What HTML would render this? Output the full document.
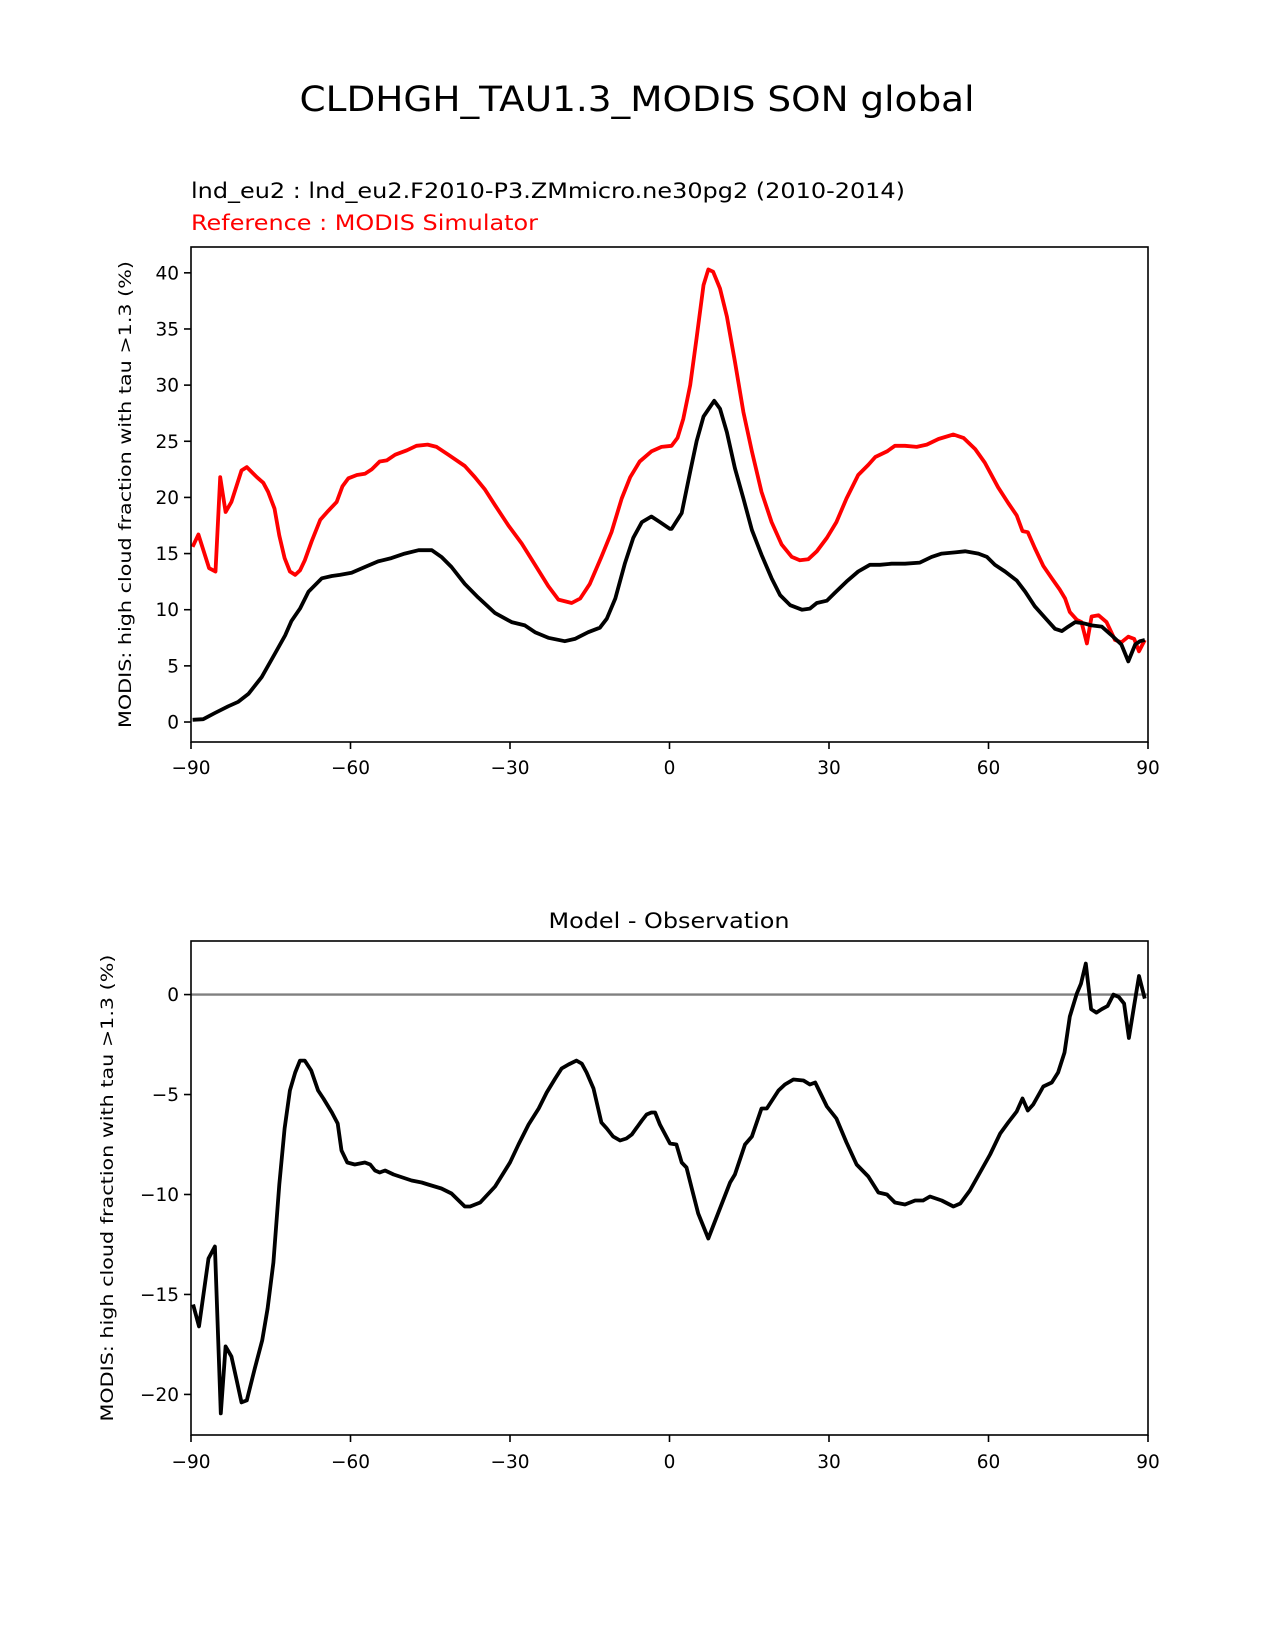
<!DOCTYPE html>
<html><head><meta charset="utf-8"><style>
html,body{margin:0;padding:0;background:#fff;}
svg{display:block;font-family:"DejaVu Sans","Liberation Sans",sans-serif;}
</style></head>
<body>
<svg id="fig" width="1275" height="1650" viewBox="0 0 1275 1650" xmlns="http://www.w3.org/2000/svg">
<rect width="1275" height="1650" fill="#fff"/>
<text x="637" y="111" font-size="35" text-anchor="middle" textLength="675" lengthAdjust="spacingAndGlyphs">CLDHGH_TAU1.3_MODIS SON global</text>
<text x="191" y="198" font-size="21" textLength="714" lengthAdjust="spacingAndGlyphs">lnd_eu2 : lnd_eu2.F2010-P3.ZMmicro.ne30pg2 (2010-2014)</text>
<text x="191" y="230" font-size="21" fill="#ff0000" textLength="347" lengthAdjust="spacingAndGlyphs">Reference : MODIS Simulator</text>
<text x="669" y="928" font-size="21" text-anchor="middle" textLength="241" lengthAdjust="spacingAndGlyphs">Model - Observation</text>
<g id="top"></g>
<g id="bot"></g>
</svg>
<script>
// Top panel data
const testLats = [-89.7,-87.7,-85.5,-83.0,-81.1,-79.2,-76.7,-74.2,-72.3,-71.1,-69.5,-67.9,-65.4,-63.5,-62.0,-59.8,-57.3,-54.8,-52.3,-49.8,-47.2,-44.7,-42.9,-41.0,-38.5,-36.0,-32.8,-29.7,-27.2,-25.3,-22.8,-19.7,-17.8,-15.3,-13.1,-11.8,-10.2,-8.4,-6.8,-5.2,-3.4,-1.8,0.1,0.4,2.3,3.9,5.1,6.4,8.4,9.5,10.8,12.3,13.9,15.5,17.3,19.2,20.8,22.7,24.9,26.4,27.7,29.6,31.1,33.3,35.5,37.7,39.6,41.8,44.3,47.1,49.3,51.2,53.7,55.6,58.1,59.7,61.2,63.1,65.3,66.9,68.7,70.6,72.5,73.8,75.0,76.3,77.8,79.4,81.3,83.2,85.0,86.3,87.6,88.5,89.4];
const testVals = [0.2,0.25,0.8,1.4,1.8,2.5,4.0,6.1,7.7,9.0,10.1,11.6,12.8,13.0,13.1,13.3,13.8,14.3,14.6,15.0,15.3,15.3,14.7,13.8,12.3,11.1,9.7,8.9,8.6,8.0,7.5,7.2,7.4,8.0,8.4,9.2,11.0,14.1,16.4,17.8,18.3,17.8,17.2,17.2,18.6,22.3,25.0,27.2,28.6,27.9,25.8,22.6,19.9,17.1,14.9,12.8,11.3,10.4,10.0,10.1,10.6,10.8,11.5,12.5,13.4,14.0,14.0,14.1,14.1,14.2,14.7,15.0,15.1,15.2,15.0,14.7,14.0,13.4,12.6,11.6,10.3,9.3,8.3,8.1,8.5,8.9,8.8,8.6,8.5,7.7,6.9,5.4,6.9,7.2,7.3];
const refLats = [-89.7,-88.6,-86.6,-85.4,-84.5,-83.5,-82.4,-80.5,-79.5,-77.6,-76.4,-75.5,-74.3,-73.4,-72.4,-71.4,-70.4,-69.5,-68.6,-67.3,-65.7,-64.2,-62.6,-61.5,-60.4,-58.8,-57.3,-56.0,-54.5,-53.2,-51.6,-49.4,-47.6,-45.5,-43.8,-41.6,-38.5,-36.6,-34.7,-32.8,-30.3,-27.8,-25.3,-22.8,-20.9,-18.4,-16.8,-15.0,-12.8,-10.9,-9.0,-7.4,-5.6,-3.4,-1.5,0.4,1.5,2.6,3.9,5.1,6.4,7.3,8.2,9.5,10.8,12.3,13.9,15.5,17.3,19.2,21.1,23.0,24.5,26.1,27.7,29.6,31.4,33.3,35.5,37.4,38.7,40.9,42.4,44.3,46.5,48.4,50.6,53.4,55.3,57.5,59.3,61.8,63.7,65.3,66.4,67.4,68.7,70.3,71.9,73.4,74.4,75.3,76.6,77.5,78.5,79.4,80.7,82.2,83.8,85.0,86.3,87.4,88.3,89.4];
const refVals = [15.6,16.7,13.7,13.4,21.8,18.7,19.6,22.4,22.7,21.8,21.3,20.5,19.0,16.6,14.6,13.4,13.1,13.5,14.4,16.1,18.0,18.8,19.6,21.0,21.7,22.0,22.1,22.5,23.2,23.3,23.8,24.2,24.6,24.7,24.5,23.8,22.8,21.8,20.7,19.3,17.5,15.9,14.0,12.1,10.9,10.6,11.0,12.3,14.7,16.9,19.9,21.8,23.2,24.1,24.5,24.6,25.3,27.0,30.0,34.2,38.9,40.3,40.1,38.6,36.1,32.1,27.6,24.1,20.5,17.8,15.8,14.7,14.4,14.5,15.2,16.4,17.8,19.9,22.0,22.9,23.6,24.1,24.6,24.6,24.5,24.7,25.2,25.6,25.3,24.3,23.1,20.9,19.5,18.4,17.0,16.9,15.5,13.9,12.8,11.8,11.0,9.8,9.1,8.9,7.0,9.4,9.5,8.9,7.3,7.1,7.6,7.4,6.3,7.3];
// Bottom panel data
const diffLats = [-89.6,-88.5,-86.7,-85.5,-84.4,-83.5,-82.4,-81.4,-80.5,-79.5,-78.0,-76.6,-75.6,-74.5,-73.4,-72.4,-71.4,-70.4,-69.5,-68.6,-67.4,-66.1,-65.1,-63.5,-62.4,-61.7,-60.6,-59.2,-57.3,-56.3,-55.4,-54.5,-53.5,-51.9,-48.5,-46.6,-45.4,-42.9,-41.0,-38.5,-37.5,-35.6,-32.8,-30.0,-28.4,-26.5,-24.6,-23.1,-21.5,-20.3,-19.0,-17.5,-16.5,-15.6,-14.3,-12.8,-11.8,-10.6,-9.3,-8.1,-7.1,-5.2,-4.3,-3.4,-2.7,-1.8,0.1,1.3,2.3,3.2,4.2,5.4,7.3,9.2,11.4,12.3,14.2,15.5,17.3,18.3,20.5,21.7,23.3,25.2,26.4,27.4,29.6,31.4,33.3,35.2,37.4,39.3,40.9,42.4,44.3,46.2,47.7,49.0,51.2,53.4,54.7,56.5,58.4,60.3,62.2,63.7,65.3,66.4,67.4,68.4,70.3,71.9,73.1,74.3,75.3,76.6,77.4,78.3,79.3,80.3,81.3,82.4,83.5,84.5,85.5,86.4,87.4,88.3,89.4];
const diffVals = [-15.5,-16.6,-13.2,-12.6,-20.95,-17.6,-18.1,-19.3,-20.4,-20.3,-18.7,-17.3,-15.7,-13.4,-9.5,-6.7,-4.8,-3.9,-3.3,-3.3,-3.8,-4.8,-5.2,-5.9,-6.45,-7.8,-8.4,-8.5,-8.4,-8.5,-8.8,-8.9,-8.8,-9.0,-9.3,-9.4,-9.5,-9.7,-9.95,-10.6,-10.6,-10.4,-9.6,-8.4,-7.5,-6.5,-5.7,-4.9,-4.2,-3.7,-3.5,-3.3,-3.45,-3.9,-4.7,-6.4,-6.7,-7.1,-7.3,-7.2,-7.0,-6.3,-6.0,-5.9,-5.9,-6.5,-7.45,-7.5,-8.4,-8.65,-9.7,-10.95,-12.2,-10.9,-9.4,-9.0,-7.5,-7.1,-5.7,-5.7,-4.8,-4.5,-4.25,-4.3,-4.5,-4.4,-5.6,-6.2,-7.4,-8.5,-9.1,-9.9,-10.0,-10.4,-10.5,-10.3,-10.3,-10.1,-10.3,-10.6,-10.45,-9.8,-8.9,-8.0,-6.95,-6.4,-5.85,-5.2,-5.8,-5.5,-4.6,-4.4,-3.9,-2.9,-1.1,0.05,0.55,1.55,-0.73,-0.9,-0.73,-0.57,0,-0.12,-0.45,-2.17,-0.53,0.93,-0.2];
const xTicks = [-90,-60,-30,0,30,60,90];
const topYTicks = [0,5,10,15,20,25,30,35,40];
const botYTicks = [-20,-15,-10,-5,0];

const NS = 'http://www.w3.org/2000/svg';
function mk(parent, tag, attrs, txt){
  const e = document.createElementNS(NS, tag);
  for (const k in attrs) e.setAttribute(k, attrs[k]);
  if (txt !== undefined) e.textContent = txt;
  parent.appendChild(e);
  return e;
}
const L = 191, R = 1148;
function xScale(lat){ return L + (lat + 90) / 180 * (R - L); }

function panel(g, top, bottom, ymin, ymax, yTicks, ylabelX, tickBase){
  const yScale = v => bottom - (v - ymin) / (ymax - ymin) * (bottom - top);
  yTicks.forEach(t => {
    const y = yScale(t);
    const tk = mk(g, 'line', {x1: L - 7, x2: L, y1: y, y2: y, stroke: '#000', 'stroke-width': 1.6});
    
    
    const lb = mk(g, 'text', {x: L - 12, y: y + 6.5, 'font-size': 18.5, 'text-anchor': 'end'}, String(t).replace('-', '\u2212'));
    
    
  });
  xTicks.forEach(t => {
    const x = xScale(t);
    const tk = mk(g, 'line', {x1: x, x2: x, y1: bottom, y2: bottom + 7, stroke: '#000', 'stroke-width': 1.6});
    
    
    const lb = mk(g, 'text', {x: x, y: tickBase, 'font-size': 18.5, 'text-anchor': 'middle'}, String(t).replace('-', '\u2212'));
    
    
  });
  const cy = (top + bottom) / 2;
  const yl = mk(g, 'text', {x: ylabelX, y: cy, 'font-size': 17, 'text-anchor': 'middle', transform: 'rotate(-90 ' + ylabelX + ' ' + cy + ')', textLength: 467, lengthAdjust: 'spacingAndGlyphs'}, 'MODIS: high cloud fraction with tau >1.3 (%)');
  
  
  return yScale;
}
function line(g, lats, vals, yScale, color, name, w){
  const d = lats.map((la, i) => (i ? 'L' : 'M') + xScale(la).toFixed(1) + ' ' + yScale(vals[i]).toFixed(1)).join(' ');
  const p = mk(g, 'path', {d: d, fill: 'none', stroke: color, 'stroke-width': w, 'stroke-linejoin': 'round'});
  
  
}
function frame(g, top, bottom){
  const r = mk(g, 'rect', {x: L, y: top, width: R - L, height: bottom - top, fill: 'none', stroke: '#000', 'stroke-width': 1.6});
  
  
}

const gt = document.getElementById('top');


const yT = panel(gt, 247, 742, -1.78, 42.3, topYTicks, 131, 774);
line(gt, refLats, refVals, yT, '#ff0000', 'reference-line', 3.8);
line(gt, testLats, testVals, yT, '#000000', 'test-line', 3.8);
frame(gt, 247, 742);

const gb = document.getElementById('bot');


const yB = panel(gb, 941, 1435, -22.03, 2.68, botYTicks, 113, 1468);
const zl = mk(gb, 'line', {x1: L, x2: R, y1: yB(0), y2: yB(0), stroke: '#808080', 'stroke-width': 2.4});


line(gb, diffLats, diffVals, yB, '#000000', 'difference-line', 3.8);
frame(gb, 941, 1435);
</script>
</body></html>
